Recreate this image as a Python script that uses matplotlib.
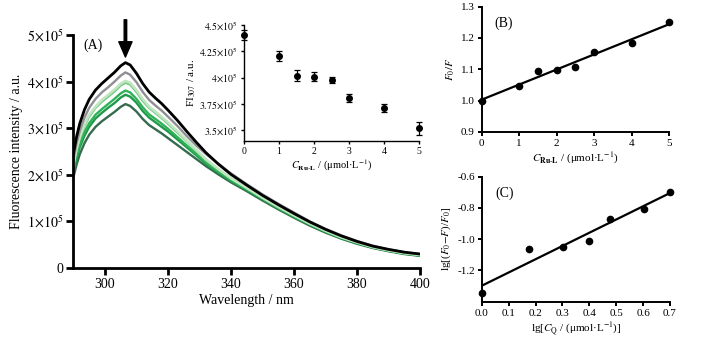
import numpy as np
import matplotlib
matplotlib.use("Agg")
import matplotlib.pyplot as plt

plt.rcParams['font.family'] = ['Liberation Serif', 'DejaVu Serif']
plt.rcParams['mathtext.fontset'] = 'stix'

# ---------------- data ----------------
wavelength = [290, 291, 292, 293.5, 295, 297, 299, 301, 303, 305, 306.5, 308, 310, 312, 314, 316, 318, 320,
              323, 326, 329, 332, 336, 340, 345, 350, 355, 360, 365, 370, 375, 380, 385, 390, 395, 400]

# fluorescence spectra (x 1e5 a.u.)
spec_black = [2.45, 2.82, 3.10, 3.40, 3.62, 3.82, 3.96, 4.08, 4.20, 4.34, 4.41, 4.36, 4.18, 3.96, 3.78, 3.65, 3.53, 3.39,
              3.17, 2.93, 2.70, 2.48, 2.23, 2.01, 1.78, 1.56, 1.36, 1.17, 0.99, 0.83, 0.69, 0.57, 0.47, 0.40, 0.34, 0.30]
spec_gray = [2.33, 2.68, 2.94, 3.23, 3.44, 3.63, 3.77, 3.88, 4.00, 4.13, 4.20, 4.15, 3.99, 3.78, 3.61, 3.49, 3.38, 3.25,
             3.05, 2.83, 2.63, 2.45, 2.24, 2.03, 1.80, 1.58, 1.38, 1.19, 1.00, 0.84, 0.70, 0.58, 0.48, 0.40, 0.34, 0.30]
spec_g1 = [2.23, 2.56, 2.81, 3.09, 3.29, 3.47, 3.61, 3.72, 3.83, 3.96, 4.02, 3.98, 3.82, 3.63, 3.47, 3.36, 3.25, 3.13,
           2.94, 2.74, 2.54, 2.34, 2.13, 1.93, 1.72, 1.51, 1.32, 1.13, 0.96, 0.80, 0.66, 0.55, 0.45, 0.38, 0.32, 0.28]
spec_g2 = [2.23, 2.55, 2.80, 3.08, 3.28, 3.46, 3.60, 3.71, 3.82, 3.95, 4.01, 3.97, 3.81, 3.62, 3.46, 3.35, 3.24, 3.12,
           2.93, 2.73, 2.53, 2.33, 2.12, 1.92, 1.72, 1.51, 1.31, 1.13, 0.95, 0.80, 0.66, 0.55, 0.45, 0.38, 0.32, 0.28]
spec_g3 = [2.21, 2.53, 2.78, 3.05, 3.25, 3.44, 3.57, 3.68, 3.79, 3.92, 3.98, 3.94, 3.78, 3.59, 3.44, 3.33, 3.22, 3.10,
           2.91, 2.72, 2.52, 2.32, 2.11, 1.92, 1.72, 1.51, 1.31, 1.13, 0.95, 0.80, 0.66, 0.55, 0.45, 0.38, 0.32, 0.28]
spec_g4 = [2.11, 2.42, 2.66, 2.92, 3.11, 3.29, 3.41, 3.52, 3.63, 3.75, 3.81, 3.77, 3.63, 3.45, 3.30, 3.20, 3.10, 2.99,
           2.81, 2.63, 2.45, 2.27, 2.07, 1.89, 1.69, 1.49, 1.29, 1.11, 0.94, 0.78, 0.65, 0.54, 0.44, 0.37, 0.31, 0.27]
spec_g5 = [2.06, 2.36, 2.59, 2.84, 3.03, 3.21, 3.33, 3.44, 3.54, 3.66, 3.72, 3.68, 3.55, 3.37, 3.23, 3.13, 3.03, 2.93,
           2.76, 2.59, 2.42, 2.24, 2.05, 1.87, 1.68, 1.48, 1.28, 1.10, 0.93, 0.78, 0.64, 0.53, 0.44, 0.37, 0.31, 0.27]
spec_g6 = [1.95, 2.22, 2.44, 2.68, 2.86, 3.03, 3.15, 3.25, 3.35, 3.46, 3.52, 3.48, 3.36, 3.20, 3.07, 2.98, 2.89, 2.79,
           2.64, 2.49, 2.34, 2.19, 2.01, 1.84, 1.65, 1.45, 1.26, 1.08, 0.91, 0.76, 0.63, 0.52, 0.43, 0.36, 0.30, 0.26]
spectra = [spec_g6, spec_g5, spec_g4, spec_g3, spec_g2, spec_g1, spec_gray, spec_black]
spec_colors = ['#356b4e', '#1e9a4a', '#2fb257', '#6cc77e', '#a2dcaa', '#c2e6c2', '#8e8e94', '#000000']

# inset: FI at 307 nm
conc = [0, 1, 1.5, 2, 2.5, 3, 4, 5]
fi307 = [4.405, 4.204, 4.02, 4.01, 3.977, 3.81, 3.715, 3.52]   # x 1e5
fi307_err = [0.05, 0.05, 0.05, 0.04, 0.03, 0.04, 0.04, 0.06]  # x 1e5

# (B) Stern-Volmer
f0_f = [1.000, 1.047, 1.095, 1.098, 1.108, 1.155, 1.185, 1.252]

# (C) double log
lg_cq = [0.0, 0.176, 0.301, 0.398, 0.477, 0.602, 0.699]
lg_ratio = [-1.345, -1.06, -1.047, -1.01, -0.872, -0.804, -0.698]

# ---------------- figure ----------------
fig = plt.figure(figsize=(7.06, 3.37), dpi=100)

def style(ax, lw=1.2, fs=8, tl=3.5):
    for s in ['top', 'right']:
        ax.spines[s].set_visible(False)
    for s in ['left', 'bottom']:
        ax.spines[s].set_linewidth(lw)
    ax.tick_params(direction='out', width=lw, length=tl, labelsize=fs, pad=2)

# ---- Panel A ----
axA = fig.add_axes([0.104, 0.2047, 0.491, 0.691])
wl = np.array(wavelength)
for s, c in zip(spectra, spec_colors):
    lw = 2.0 if c == '#000000' else 1.7
    axA.plot(wl, np.array(s) * 1e5, color=c, lw=lw, solid_joinstyle='round')
axA.set_xlim(290, 400)
axA.set_ylim(0, 5e5)
axA.set_xticks([300, 320, 340, 360, 380, 400])
axA.set_yticks([0, 1e5, 2e5, 3e5, 4e5, 5e5])
axA.set_yticklabels(['0'] + [r'$%d\!\times\!10^{5}$' % i for i in range(1, 6)])
style(axA, lw=2.0, fs=10, tl=5)
axA.set_xlabel('Wavelength / nm', fontsize=10, labelpad=2)
axA.set_ylabel('Fluorescence intensity / a.u.', fontsize=10, labelpad=3)
axA.text(0.03, 0.955, '(A)', transform=axA.transAxes, fontsize=10, va='center', ha='left')
axA.annotate('', xy=(306.5, 4.53e5), xytext=(306.5, 5.33e5),
             arrowprops=dict(width=1.8, headwidth=9.5, headlength=11, color='k', shrink=0),
             annotation_clip=False)

# ---- Inset ----
axI = fig.add_axes([0.3456, 0.5816, 0.248, 0.3442])
axI.errorbar(conc, np.array(fi307) * 1e5, yerr=np.array(fi307_err) * 1e5, fmt='o', color='k',
             ms=4, capsize=2, elinewidth=0.9, capthick=0.9, clip_on=False)
axI.set_xlim(0, 5)
axI.set_ylim(3.40e5, 4.5e5)
axI.set_xticks([0, 1, 2, 3, 4, 5])
axI.set_yticks([3.5e5, 3.75e5, 4e5, 4.25e5, 4.5e5])
axI.set_yticklabels([r'$3.5\!\times\!10^{5}$', r'$3.75\!\times\!10^{5}$', r'$4\!\times\!10^{5}$',
                     r'$4.25\!\times\!10^{5}$', r'$4.5\!\times\!10^{5}$'])
style(axI, lw=1.0, fs=7, tl=2.5)
axI.set_xlabel(r'$C_{\mathbf{Ru\text{-}L}}$ / (μmol·L$^{-1}$)', fontsize=7.5, labelpad=1)
axI.set_ylabel(r'FI$_{307}$ / a.u.', fontsize=8, labelpad=1)

# ---- Panel B ----
axB = fig.add_axes([0.6823, 0.609, 0.2657, 0.371])
axB.plot(conc, f0_f, 'o', color='k', ms=4.5, clip_on=False)
kb = np.polyfit(conc, f0_f, 1)
xb = np.array([min(conc), max(conc)])
axB.plot(xb, np.polyval(kb, xb), color='k', lw=1.6)
axB.set_xlim(0, 5)
axB.set_ylim(0.9, 1.3)
axB.set_xticks([0, 1, 2, 3, 4, 5])
axB.set_yticks([0.9, 1.0, 1.1, 1.2, 1.3])
axB.set_yticklabels(['0.9', '1.0', '1.1', '1.2', '1.3'])
style(axB, lw=1.4, fs=8, tl=3)
axB.set_xlabel(r'$C_{\mathbf{Ru\text{-}L}}$ / (μmol·L$^{-1}$)', fontsize=8, labelpad=2)
axB.set_ylabel(r'$F_0/F$', fontsize=8, labelpad=3)
axB.text(0.07, 0.87, '(B)', transform=axB.transAxes, fontsize=10, va='center', ha='left')

# ---- Panel C ----
axC = fig.add_axes([0.6823, 0.1047, 0.2667, 0.371])
axC.plot(lg_cq, lg_ratio, 'o', color='k', ms=4.5, clip_on=False)
kc = np.polyfit(lg_cq, lg_ratio, 1)
xc = np.array([min(lg_cq), max(lg_cq)])
axC.plot(xc, np.polyval(kc, xc), color='k', lw=1.6)
axC.set_xlim(0, 0.7)
axC.set_ylim(-1.4, -0.6)
axC.set_xticks([0, 0.1, 0.2, 0.3, 0.4, 0.5, 0.6, 0.7])
axC.set_xticklabels(['0.0', '0.1', '0.2', '0.3', '0.4', '0.5', '0.6', '0.7'])
axC.set_yticks([-1.2, -1.0, -0.8, -0.6])
axC.set_yticklabels(['-1.2', '-1.0', '-0.8', '-0.6'])
style(axC, lw=1.4, fs=8, tl=3)
axC.set_xlabel(r'lg[$C_{\rm Q}$ / (μmol·L$^{-1}$)]', fontsize=8, labelpad=2)
axC.set_ylabel(r'lg[($F_0$$-$$F$)/$F_0$]', fontsize=8, labelpad=3)
axC.text(0.07, 0.87, '(C)', transform=axC.transAxes, fontsize=10, va='center', ha='left')

fig.savefig('out.png', dpi=100)
